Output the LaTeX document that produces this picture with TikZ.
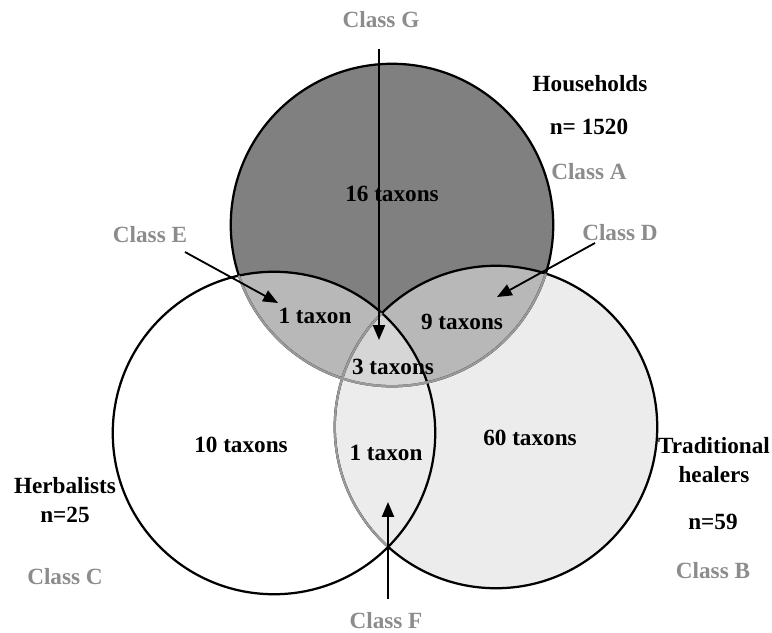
\documentclass[tikz,border=0pt]{standalone}
\usepackage{fontspec}
\setmainfont{Liberation Serif}
\usepackage{xcolor}
\usepackage{tikz}
\usetikzlibrary{arrows.meta}
\definecolor{DarkFill}{HTML}{808080}
\definecolor{MidFill}{HTML}{B8B8B8}
\definecolor{LightFill}{HTML}{D6D6D6}
\definecolor{PaleFill}{HTML}{ECECEC}
\definecolor{ClassGrey}{HTML}{8C8C8C}
\definecolor{EdgeGrey}{HTML}{9A9A9A}
\def\rad{4.03cm}

\begin{document}
\begin{tikzpicture}[x=0.025cm,y=-0.025cm,
  txt/.style={font=\fontsize{16.5}{21}\selectfont\bfseries,align=center,inner sep=1pt},
  cls/.style={txt,text=ClassGrey},
  edge/.style={draw=black,line width=1.6pt},
  softedge/.style={draw=EdgeGrey,line width=1.6pt},
  arr/.style={-{Triangle[length=0.37cm,width=0.3cm]},line width=1.3pt,draw=black}
]
  \useasboundingbox (0,0) rectangle (772,633);

  % circle centres: A households, B traditional healers, C herbalists
  \coordinate (cA) at (392,225);
  \coordinate (cB) at (496,427);
  \coordinate (cC) at (274,433);

  % region fills
  \fill[PaleFill] (cB) circle[radius=\rad];
  \fill[DarkFill] (cA) circle[radius=\rad];
  \begin{scope}
    \clip (cA) circle[radius=\rad];
    \fill[MidFill] (cB) circle[radius=\rad];
    \fill[MidFill] (cC) circle[radius=\rad];
    \clip (cB) circle[radius=\rad];
    \fill[LightFill] (cC) circle[radius=\rad];
  \end{scope}

  % outlines, lighter where covered by another set
  \draw[edge] (cA) circle[radius=\rad];
  \draw[edge] (cB) circle[radius=\rad];
  \draw[edge] (cC) circle[radius=\rad];
  \begin{scope}
    \clip (cB) circle[radius=\rad];
    \draw[softedge] (cA) circle[radius=\rad];
  \end{scope}
  \begin{scope}
    \clip (cC) circle[radius=\rad];
    \draw[softedge] (cA) circle[radius=\rad];
    \draw[softedge] (cB) circle[radius=\rad];
  \end{scope}

  % counts per region
  \node[txt] (t16)  at (392,194) {16 taxons};
  \node[txt] (t1ac) at (315,316) {1 taxon};
  \node[txt] (t9)   at (462,322) {9 taxons};
  \node[txt] (t3)   at (393,367) {3 taxons};
  \node[txt] (t10)  at (241,445) {10 taxons};
  \node[txt] (t1bc) at (386,453) {1 taxon};
  \node[txt] (t60)  at (530,438) {60 taxons};

  % set labels
  \node[txt] (hh)    at (590,84)  {Households};
  \node[txt] (hhN)   at (589,127) {n= 1520};
  \node[cls] (clsA)  at (589,172) {Class A};
  \node[txt] (heal)  at (714,460) {Traditional\\healers};
  \node[txt] (healN) at (713,522) {n=59};
  \node[cls] (clsB)  at (713,571) {Class B};
  \node[txt] (herb)  at (65,500)  {Herbalists\\n=25};
  \node[cls] (clsC)  at (65,577)  {Class C};

  % pointer classes
  \node[cls] (labG) at (381,20)  {Class G};
  \node[cls] (labE) at (150,235) {Class E};
  \node[cls] (labD) at (620,233) {Class D};
  \node[cls] (labF) at (386,621) {Class F};
  \coordinate (gFrom) at (379,49);  \coordinate (gTip) at (379,340);
  \coordinate (eFrom) at (185,252); \coordinate (eTip) at (278,303);
  \coordinate (dFrom) at (595,243); \coordinate (dTip) at (497,297);
  \coordinate (fFrom) at (388,599); \coordinate (fTip) at (388,502);
  \draw[arr] (gFrom) -- (gTip);
  \draw[arr] (eFrom) -- (eTip);
  \draw[arr] (dFrom) -- (dTip);
  \draw[arr] (fFrom) -- (fTip);
\end{tikzpicture}
\end{document}
